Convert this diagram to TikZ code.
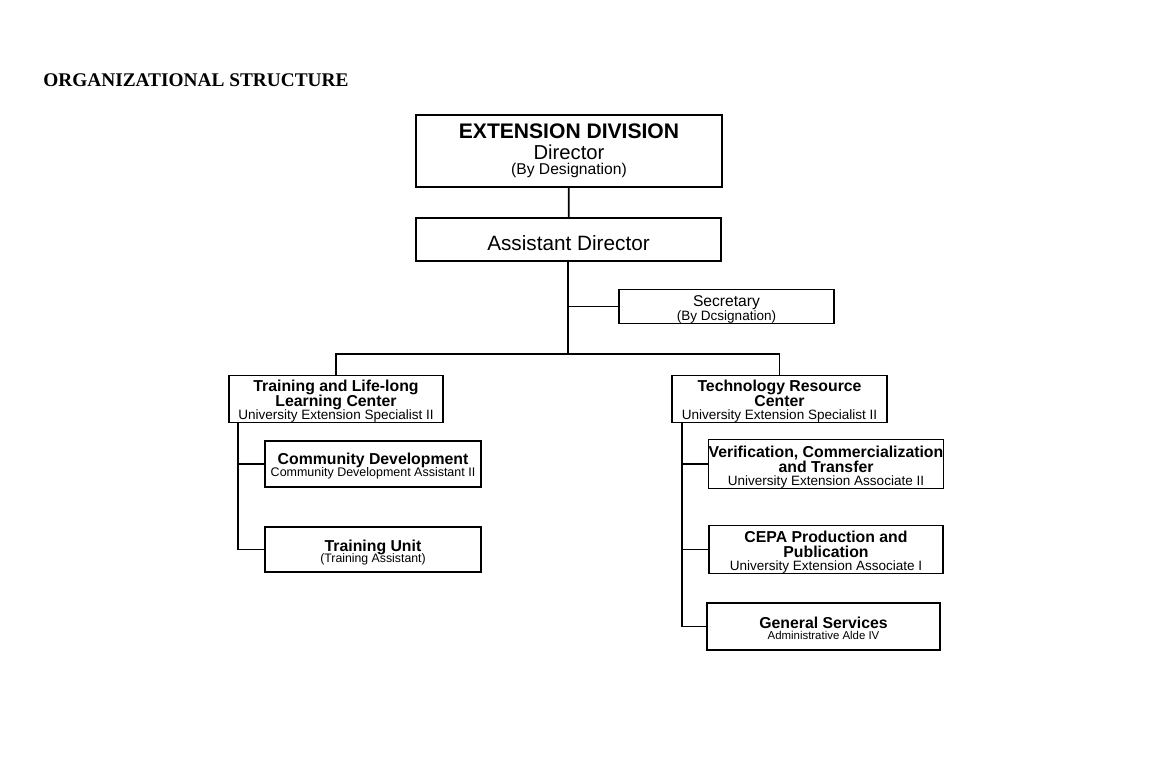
\documentclass[tikz,border=0pt]{standalone}
\usepackage{fontspec}
\setmainfont{Liberation Sans}
\newfontfamily\titlefont{Liberation Serif}
\usepackage{tikz}
\usetikzlibrary{positioning,calc}
\newcommand\tightlines{\lineskiplimit=-20pt\relax}
\newcommand\topgap[1]{\rule{0pt}{#1}}

\begin{document}
\begin{tikzpicture}[x=0.02cm,y=-0.02cm,
  b/.style={draw,line width=0.8pt,align=center,inner sep=0pt},
  hd/.style={font=\bfseries\fontsize{9}{8.5}\selectfont\tightlines},
  hdt/.style={font=\bfseries\fontsize{9}{6.8}\selectfont\tightlines},
  l/.style={line width=1pt}]
  \useasboundingbox (0,0) rectangle (1156,761);
  \node[anchor=base west,inner sep=0pt,font=\titlefont\bfseries\fontsize{11}{12}\selectfont] (ttl) at (43,86) {ORGANIZATIONAL STRUCTURE};
  \node[b,minimum width=6.12cm,minimum height=1.44cm,font=\fontsize{11.5}{12}\selectfont\tightlines] (dir) at (569,151)
    {{\bfseries\fontsize{12}{12}\selectfont EXTENSION DIVISION}\\
     Director\\[-3.5pt]
     {\fontsize{8.9}{9}\selectfont (By Designation)}};
  \node[b,minimum width=6.1cm,minimum height=0.86cm,font=\fontsize{11.8}{12}\selectfont] (ad) at (568.5,239.5) {\topgap{13pt}Assistant Director};
  \node[b,minimum width=4.3cm,minimum height=0.66cm,font=\fontsize{8.9}{7.8}\selectfont\tightlines] (sec) at (726.5,306.5)
    {\topgap{9.9pt}Secretary\\
     {\fontsize{7.7}{8}\selectfont (By Dcsignation)}};
  \node[b,hd,minimum width=4.28cm,minimum height=0.92cm] (tl) at (336,399)
    {\topgap{9pt}Training and Life-long\\Learning Center\\[-1pt]
     {\mdseries\fontsize{7.7}{8}\selectfont University Extension Specialist II}};
  \node[b,hd,minimum width=4.3cm,minimum height=0.92cm] (tr) at (779.5,399)
    {\topgap{9pt}Technology Resource\\Center\\[-1pt]
     {\mdseries\fontsize{7.7}{8}\selectfont University Extension Specialist II}};
  \node[b,hdt,minimum width=4.32cm,minimum height=0.92cm] (cd) at (373,464)
    {\topgap{9pt}Community Development\\
     {\mdseries\fontsize{7.1}{8}\selectfont Community Development Assistant II}};
  \node[b,hdt,minimum width=4.32cm,minimum height=0.9cm] (tu) at (373,549.5)
    {\topgap{10pt}Training Unit\\
     {\mdseries\fontsize{7}{8}\selectfont (Training Assistant)}};
  \node[b,hd,minimum width=4.68cm,minimum height=0.92cm] (vc) at (826,464)
    {\topgap{10pt}Verification, Commercialization\\and Transfer\\[-0.8pt]
     {\mdseries\fontsize{7.7}{8}\selectfont University Extension Associate II}};
  \node[b,hd,minimum width=4.68cm,minimum height=0.9cm] (ce) at (826,549.5)
    {\topgap{10pt}CEPA Production and\\Publication\\[-1pt]
     {\mdseries\fontsize{7.7}{8}\selectfont University Extension Associate I}};
  \node[b,font=\bfseries\fontsize{9}{6.4}\selectfont\tightlines,minimum width=4.66cm,minimum height=0.94cm] (gs) at (823.5,626.5)
    {\topgap{8.3pt}General Services\\
     {\mdseries\fontsize{6.5}{7}\selectfont Administrative Alde IV}};
  % connectors
  \coordinate (bar) at (568,354);
  \coordinate (lt) at (238,422);
  \coordinate (rt) at (682,422);
  \draw[l] (dir) -- (ad);
  \draw[l] (ad.south -| bar) -- (bar);
  \draw[l] (sec.west) -- (sec.west -| bar);
  \draw[l] (bar) -| (tl);
  \draw[l] (bar) -| (tr);
  \draw[l] (lt) |- (tu.west);
  \draw[l] (cd.west) -- (cd.west -| lt);
  \draw[l] (rt) |- (gs.west);
  \draw[l] (vc.west) -- (vc.west -| rt);
  \draw[l] (ce.west) -- (ce.west -| rt);
\end{tikzpicture}
\end{document}
